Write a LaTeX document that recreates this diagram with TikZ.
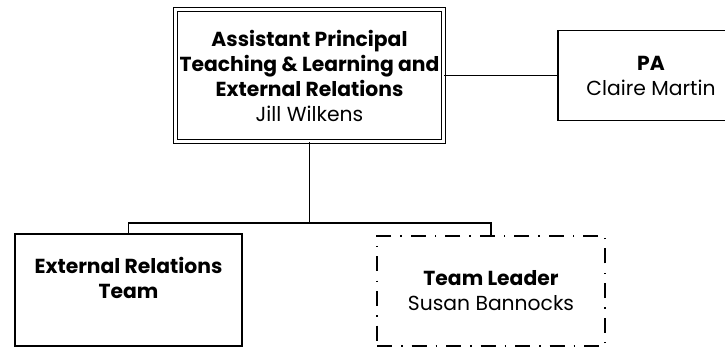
\documentclass[tikz,border=0pt]{standalone}
\usepackage{fontspec}
\setmainfont{Poppins}
\begin{document}
\begin{tikzpicture}[x=1pt, y=-1pt,
    every node/.style={font=\fontsize{20.3}{25}\selectfont, align=center},
    box/.style={draw, line width=1.3pt, rectangle, inner sep=0pt},
    headbox/.style={box, double, double distance=2.6pt},
    teambox/.style={box},
    vacantbox/.style={box, dash pattern=on 15pt off 9pt on 1.5pt off 9pt},
    link/.style={line width=1.4pt}]
    \useasboundingbox (0, 0) rectangle (725, 347);

            \node[headbox, minimum width=268pt, minimum height=132pt] (head) at(309.5, 75.5)
                {\textbf{Assistant Principal}\\\textbf{Teaching \& Learning and}\\\textbf{External Relations}\\Jill Wilkens};
            \node[box, minimum width=186pt, minimum height=90pt] (pa) at(651, 75.5)
                {\textbf{PA}\\Claire Martin};

            %%draw the teams
            \node[teambox, minimum width=227pt, minimum height=112pt] (ert) at(128.5, 290)
                {\textbf{External Relations}\\\textbf{Team}\\\mbox{}};
            \node[vacantbox, minimum width=228pt, minimum height=110pt] (leader) at(491, 291)
                {\textbf{Team Leader}\\Susan Bannocks};

            \coordinate (fork) at(309.5, 223);
            \draw[link] (head) to (pa);
            \draw[link] (head) to (fork);
            \draw[link] (fork) -| (ert);
            \draw[link] (fork) -| (leader);

        \end{tikzpicture}
\end{document}
